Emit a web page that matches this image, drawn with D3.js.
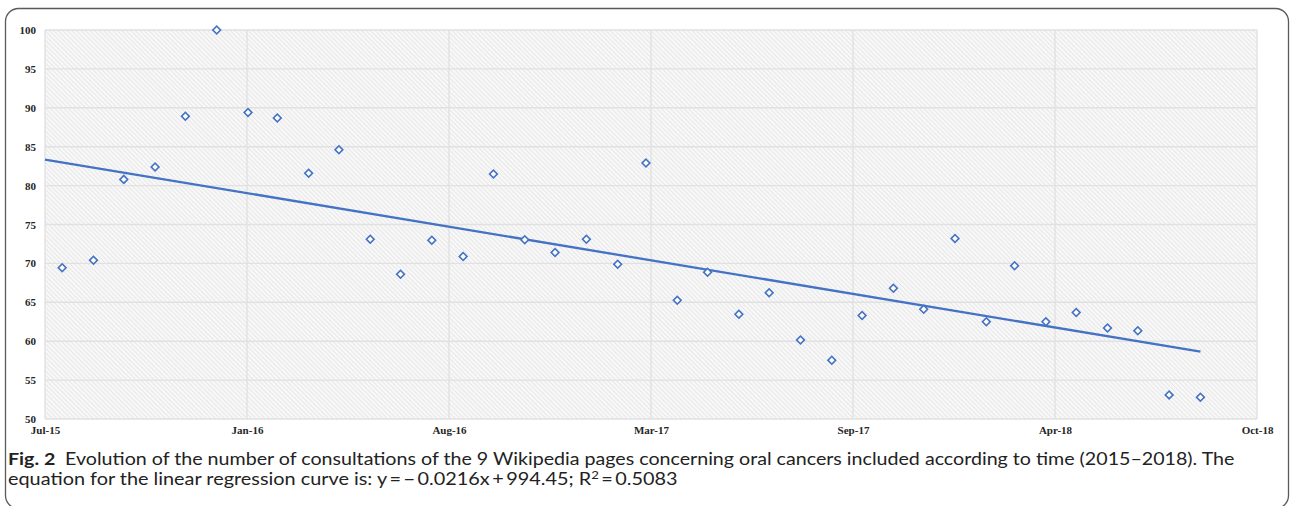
<!DOCTYPE html>
<html>
<head>
<meta charset="utf-8">
<script src="https://cdn.jsdelivr.net/npm/d3@7"></script>
<style>
  html, body { margin: 0; padding: 0; background: #fff; }
  svg { display: block; }
</style>
</head>
<body>
<svg id="chart" width="1290" height="506"></svg>
<script>
// ---- data ----
const months = [
  "2015-08","2015-09","2015-10","2015-11","2015-12",
  "2016-01","2016-02","2016-03","2016-04","2016-05","2016-06","2016-07","2016-08","2016-09","2016-10","2016-11","2016-12",
  "2017-01","2017-02","2017-03","2017-04","2017-05","2017-06","2017-07","2017-08","2017-09","2017-10","2017-11","2017-12",
  "2018-01","2018-02","2018-03","2018-04","2018-05","2018-06","2018-07","2018-08","2018-09"
];
const consultations = [
  69.45, 70.4, 80.8, 82.4, 88.9,
  100, 89.4, 88.7, 81.6, 84.6, 73.1, 68.6, 72.97, 70.9, 81.5, 73.05, 71.4,
  73.1, 69.9, 82.9, 65.25, 68.85, 63.45, 66.24, 60.15, 57.55, 63.3, 66.8, 64.1,
  73.2, 62.5, 69.7, 62.5, 63.7, 61.7, 61.35, 53.1, 52.8
];
// regression y = slope * x + intercept, x = spreadsheet date serial (days)
const trendSlope = -0.02159;
const trendIntercept = 994.45;
const xTickDates = ["2015-07-15","2016-01-31","2016-08-18","2017-03-06","2017-09-22","2018-04-10","2018-10-27"];
const xTickLabels = ["Jul-15","Jan-16","Aug-16","Mar-17","Sep-17","Apr-18","Oct-18"];
const yTicks = [50, 55, 60, 65, 70, 75, 80, 85, 90, 95, 100];
const captionBold = "Fig. 2";
const captionLine1 = "Evolution of the number of consultations of the 9 Wikipedia pages concerning oral cancers included according to time (2015\u20132018). The";
const captionLine2a = "equation for the linear regression curve is: y\u2009=\u2009\u2212\u20090.0216x\u2009+\u2009994.45; R";
const captionLine2sup = "2";
const captionLine2b = "\u2009=\u20090.5083";

// ---- layout ----
const svg = d3.select("#chart");
const plot = { left: 45, right: 1257, top: 30, bottom: 419 };
const blue = "#4472C4";
const parse = d3.utcParse("%Y-%m-%d");
const parseM = d3.utcParse("%Y-%m");
const toSerial = d => (+d) / 86400000 + 25569;

const tickDates = xTickDates.map(parse);
const x = d3.scaleUtc().domain([tickDates[0], tickDates[tickDates.length - 1]]).range([plot.left, plot.right]);
const y = d3.scaleLinear().domain([50, 100]).range([plot.bottom, plot.top]);

const data = months.map((m, i) => ({ date: parseM(m), value: consultations[i] }));

// outer rounded border
svg.append("rect")
  .attr("x", 5.5).attr("y", 8.5).attr("width", 1283).attr("height", 500)
  .attr("rx", 13).attr("ry", 13)
  .attr("fill", "none").attr("stroke", "#5a5a5a").attr("stroke-width", 1.3);

// hatch pattern
const defs = svg.append("defs");
const pat = defs.append("pattern")
  .attr("id", "hatch").attr("patternUnits", "userSpaceOnUse")
  .attr("width", 3.2).attr("height", 3.2)
  .attr("patternTransform", "rotate(-45)");
pat.append("rect").attr("width", 3.2).attr("height", 3.2).attr("fill", "#f7f7f7");
pat.append("line").attr("x1", 0).attr("y1", 0).attr("x2", 0).attr("y2", 3.2)
  .attr("stroke", "#e0e0e0").attr("stroke-width", 1.2);

svg.append("rect")
  .attr("x", plot.left).attr("y", plot.top)
  .attr("width", plot.right - plot.left).attr("height", plot.bottom - plot.top)
  .attr("fill", "url(#hatch)");

// gridlines
const grid = svg.append("g");
grid.selectAll("line.h").data(yTicks).join("line")
  .attr("x1", plot.left).attr("x2", plot.right)
  .attr("y1", d => y(d)).attr("y2", d => y(d))
  .attr("stroke", "#e1e1e1").attr("stroke-width", 1.4);
grid.selectAll("line.v").data(tickDates).join("line")
  .attr("x1", d => x(d)).attr("x2", d => x(d))
  .attr("y1", plot.top).attr("y2", plot.bottom)
  .attr("stroke", "#e1e1e1").attr("stroke-width", 1.4);

// axes (labels only)
const yAxis = d3.axisLeft(y).tickValues(yTicks).tickSize(0).tickPadding(9);
const gy = svg.append("g").attr("transform", `translate(${plot.left},0)`).call(yAxis);
gy.select(".domain").remove();
gy.selectAll("text")
  .attr("font-family", "'Liberation Serif', 'Times New Roman', serif")
  .attr("font-weight", "bold").attr("font-size", 11).attr("fill", "#262626");

const xAxis = d3.axisBottom(x).tickValues(tickDates).tickSize(0).tickPadding(7)
  .tickFormat((d, i) => xTickLabels[i]);
const gx = svg.append("g").attr("transform", `translate(0,${plot.bottom})`).call(xAxis);
gx.select(".domain").remove();
gx.selectAll("text")
  .attr("font-family", "'Liberation Serif', 'Times New Roman', serif")
  .attr("font-weight", "bold").attr("font-size", 11).attr("fill", "#262626");

// linear regression trend line (from axis start to last observation)
const trendEnds = [x.domain()[0], data[data.length - 1].date];
svg.append("path")
  .datum(trendEnds)
  .attr("d", d3.line().x(d => x(d)).y(d => y(trendSlope * toSerial(d) + trendIntercept)))
  .attr("fill", "none").attr("stroke", blue).attr("stroke-width", 2.3);

// markers (diamonds)
const diamond = d3.symbol().type(d3.symbolSquare).size(30);
svg.append("g").selectAll("path").data(data).join("path")
  .attr("d", diamond)
  .attr("transform", d => `translate(${x(d.date)},${y(d.value)}) rotate(45)`)
  .attr("fill", "#ffffff").attr("stroke", blue).attr("stroke-width", 1.6);

// caption
const capFont = "Lato, 'Open Sans', sans-serif";
const t1 = svg.append("text").attr("x", 8).attr("y", 465.5)
  .attr("font-family", capFont).attr("font-size", 16.5).attr("fill", "#222");
t1.append("tspan").attr("font-weight", "bold").text(captionBold);
t1.append("tspan").text("\u2002" + captionLine1);

const t2 = svg.append("text").attr("x", 8).attr("y", 485.5)
  .attr("font-family", capFont).attr("font-size", 16.5).attr("fill", "#222");
t2.append("tspan").text(captionLine2a);
t2.append("tspan").attr("font-size", 11).attr("dy", -6).text(captionLine2sup);
t2.append("tspan").attr("dy", 6).text(captionLine2b);

function fitWidth(sel, x0, targetRight) {
  const w = sel.node().getComputedTextLength();
  const k = (targetRight - x0) / w;
  sel.attr("transform", `translate(${x0},0) scale(${k},1) translate(${-x0},0)`);
}
fitWidth(t1, 8, 1236);
fitWidth(t2, 8, 678);
</script>
</body>
</html>
